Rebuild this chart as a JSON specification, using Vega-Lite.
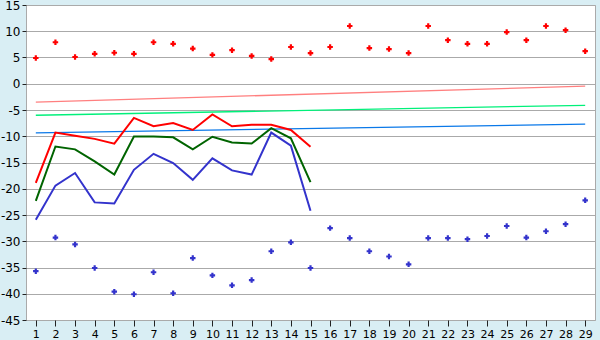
{
  "$schema": "https://vega.github.io/schema/vega-lite/v6.json",
  "autosize": {"type": "none"},
  "width": 569,
  "height": 315,
  "padding": {"left": 26, "top": 5, "right": 5, "bottom": 20},
  "background": "#d9eef4",
  "config": {
    "view": {"fill": "#ffffff", "stroke": "#aaaaaa", "strokeWidth": 1},
    "font": "DejaVu Sans"
  },
  "datasets": {
    "pts": [
      {"x": 1, "s": "hi", "y": 4.9}, {"x": 2, "s": "hi", "y": 7.9}, {"x": 3, "s": "hi", "y": 5.1}, {"x": 4, "s": "hi", "y": 5.7}, {"x": 5, "s": "hi", "y": 5.9}, {"x": 6, "s": "hi", "y": 5.7}, {"x": 7, "s": "hi", "y": 7.9}, {"x": 8, "s": "hi", "y": 7.6}, {"x": 9, "s": "hi", "y": 6.7}, {"x": 10, "s": "hi", "y": 5.5}, {"x": 11, "s": "hi", "y": 6.4}, {"x": 12, "s": "hi", "y": 5.3}, {"x": 13, "s": "hi", "y": 4.7}, {"x": 14, "s": "hi", "y": 7.0}, {"x": 15, "s": "hi", "y": 5.85}, {"x": 16, "s": "hi", "y": 7.0}, {"x": 17, "s": "hi", "y": 11.0}, {"x": 18, "s": "hi", "y": 6.8}, {"x": 19, "s": "hi", "y": 6.6}, {"x": 20, "s": "hi", "y": 5.85}, {"x": 21, "s": "hi", "y": 11.0}, {"x": 22, "s": "hi", "y": 8.3}, {"x": 23, "s": "hi", "y": 7.6}, {"x": 24, "s": "hi", "y": 7.6}, {"x": 25, "s": "hi", "y": 9.85}, {"x": 26, "s": "hi", "y": 8.3}, {"x": 27, "s": "hi", "y": 11.0}, {"x": 28, "s": "hi", "y": 10.2}, {"x": 29, "s": "hi", "y": 6.2},
      {"x": 1, "s": "lo", "y": -35.7}, {"x": 2, "s": "lo", "y": -29.3}, {"x": 3, "s": "lo", "y": -30.6}, {"x": 4, "s": "lo", "y": -35.1}, {"x": 5, "s": "lo", "y": -39.6}, {"x": 6, "s": "lo", "y": -40.1}, {"x": 7, "s": "lo", "y": -35.9}, {"x": 8, "s": "lo", "y": -39.9}, {"x": 9, "s": "lo", "y": -33.2}, {"x": 10, "s": "lo", "y": -36.5}, {"x": 11, "s": "lo", "y": -38.4}, {"x": 12, "s": "lo", "y": -37.4}, {"x": 13, "s": "lo", "y": -31.9}, {"x": 14, "s": "lo", "y": -30.2}, {"x": 15, "s": "lo", "y": -35.1}, {"x": 16, "s": "lo", "y": -27.5}, {"x": 17, "s": "lo", "y": -29.4}, {"x": 18, "s": "lo", "y": -31.9}, {"x": 19, "s": "lo", "y": -32.9}, {"x": 20, "s": "lo", "y": -34.4}, {"x": 21, "s": "lo", "y": -29.4}, {"x": 22, "s": "lo", "y": -29.4}, {"x": 23, "s": "lo", "y": -29.6}, {"x": 24, "s": "lo", "y": -29.0}, {"x": 25, "s": "lo", "y": -27.1}, {"x": 26, "s": "lo", "y": -29.3}, {"x": 27, "s": "lo", "y": -28.1}, {"x": 28, "s": "lo", "y": -26.75}, {"x": 29, "s": "lo", "y": -22.2}
    ],
    "lines": [
      {"x": 1, "s": "red", "y": -18.9}, {"x": 2, "s": "red", "y": -9.3}, {"x": 3, "s": "red", "y": -9.9}, {"x": 4, "s": "red", "y": -10.5}, {"x": 5, "s": "red", "y": -11.4}, {"x": 6, "s": "red", "y": -6.5}, {"x": 7, "s": "red", "y": -8.1}, {"x": 8, "s": "red", "y": -7.5}, {"x": 9, "s": "red", "y": -8.8}, {"x": 10, "s": "red", "y": -5.85}, {"x": 11, "s": "red", "y": -8.1}, {"x": 12, "s": "red", "y": -7.8}, {"x": 13, "s": "red", "y": -7.8}, {"x": 14, "s": "red", "y": -8.8}, {"x": 15, "s": "red", "y": -12.0},
      {"x": 1, "s": "green", "y": -22.3}, {"x": 2, "s": "green", "y": -11.95}, {"x": 3, "s": "green", "y": -12.5}, {"x": 4, "s": "green", "y": -14.8}, {"x": 5, "s": "green", "y": -17.3}, {"x": 6, "s": "green", "y": -10.05}, {"x": 7, "s": "green", "y": -10.05}, {"x": 8, "s": "green", "y": -10.2}, {"x": 9, "s": "green", "y": -12.5}, {"x": 10, "s": "green", "y": -10.1}, {"x": 11, "s": "green", "y": -11.2}, {"x": 12, "s": "green", "y": -11.4}, {"x": 13, "s": "green", "y": -8.45}, {"x": 14, "s": "green", "y": -10.4}, {"x": 15, "s": "green", "y": -18.75},
      {"x": 1, "s": "blue", "y": -25.9}, {"x": 2, "s": "blue", "y": -19.4}, {"x": 3, "s": "blue", "y": -17.0}, {"x": 4, "s": "blue", "y": -22.6}, {"x": 5, "s": "blue", "y": -22.8}, {"x": 6, "s": "blue", "y": -16.4}, {"x": 7, "s": "blue", "y": -13.35}, {"x": 8, "s": "blue", "y": -15.1}, {"x": 9, "s": "blue", "y": -18.3}, {"x": 10, "s": "blue", "y": -14.2}, {"x": 11, "s": "blue", "y": -16.5}, {"x": 12, "s": "blue", "y": -17.3}, {"x": 13, "s": "blue", "y": -9.3}, {"x": 14, "s": "blue", "y": -11.8}, {"x": 15, "s": "blue", "y": -24.2}
    ],
    "trends": [
      {"x": 1, "s": "tpink", "y": -3.5}, {"x": 29, "s": "tpink", "y": -0.45},
      {"x": 1, "s": "tgreen", "y": -6.0}, {"x": 29, "s": "tgreen", "y": -4.1},
      {"x": 1, "s": "tblue", "y": -9.35}, {"x": 29, "s": "tblue", "y": -7.7}
    ]
  },
  "encoding": {
    "x": {
      "field": "x", "type": "quantitative",
      "scale": {"domain": [0.5, 29.5], "nice": false, "zero": false},
      "axis": {
        "title": null, "values": [1,2,3,4,5,6,7,8,9,10,11,12,13,14,15,16,17,18,19,20,21,22,23,24,25,26,27,28,29],
        "grid": false, "domain": false, "tickColor": "#222222", "tickSize": 6,
        "labelFontSize": 11, "labelColor": "#000000", "labelPadding": 2, "labelFont": "DejaVu Sans"
      }
    },
    "y": {
      "field": "y", "type": "quantitative",
      "scale": {"domain": [-45, 15], "nice": false, "zero": false},
      "axis": {
        "title": null, "values": [-45,-40,-35,-30,-25,-20,-15,-10,-5,0,5,10,15],
        "gridColor": "#aaaaaa", "gridWidth": 1, "domain": false,
        "tickColor": "#222222", "tickSize": 4,
        "labelFontSize": 12, "labelColor": "#000000", "labelPadding": 2, "labelFont": "DejaVu Sans",
        "labelExpr": "'' + datum.value"
      }
    }
  },
  "layer": [
    {
      "data": {"name": "trends"},
      "mark": {"type": "line", "strokeWidth": 1.3},
      "encoding": {
        "color": {"field": "s", "type": "nominal", "legend": null,
          "scale": {"domain": ["tpink", "tgreen", "tblue"], "range": ["#ff7f7f", "#00f07a", "#0a78e8"]}}
      }
    },
    {
      "data": {"name": "lines"},
      "mark": {"type": "line", "strokeWidth": 2},
      "encoding": {
        "color": {"field": "s", "type": "nominal", "legend": null,
          "scale": {"domain": ["red", "green", "blue"], "range": ["#ff0000", "#006400", "#3333cc"]}}
      }
    },
    {
      "data": {"name": "pts"},
      "mark": {"type": "point", "shape": "cross", "filled": true, "size": 30, "opacity": 1},
      "encoding": {
        "color": {"field": "s", "type": "nominal", "legend": null,
          "scale": {"domain": ["hi", "lo"], "range": ["#ff0000", "#3333cc"]}}
      }
    }
  ],
  "resolve": {"scale": {"color": "independent"}}
}
